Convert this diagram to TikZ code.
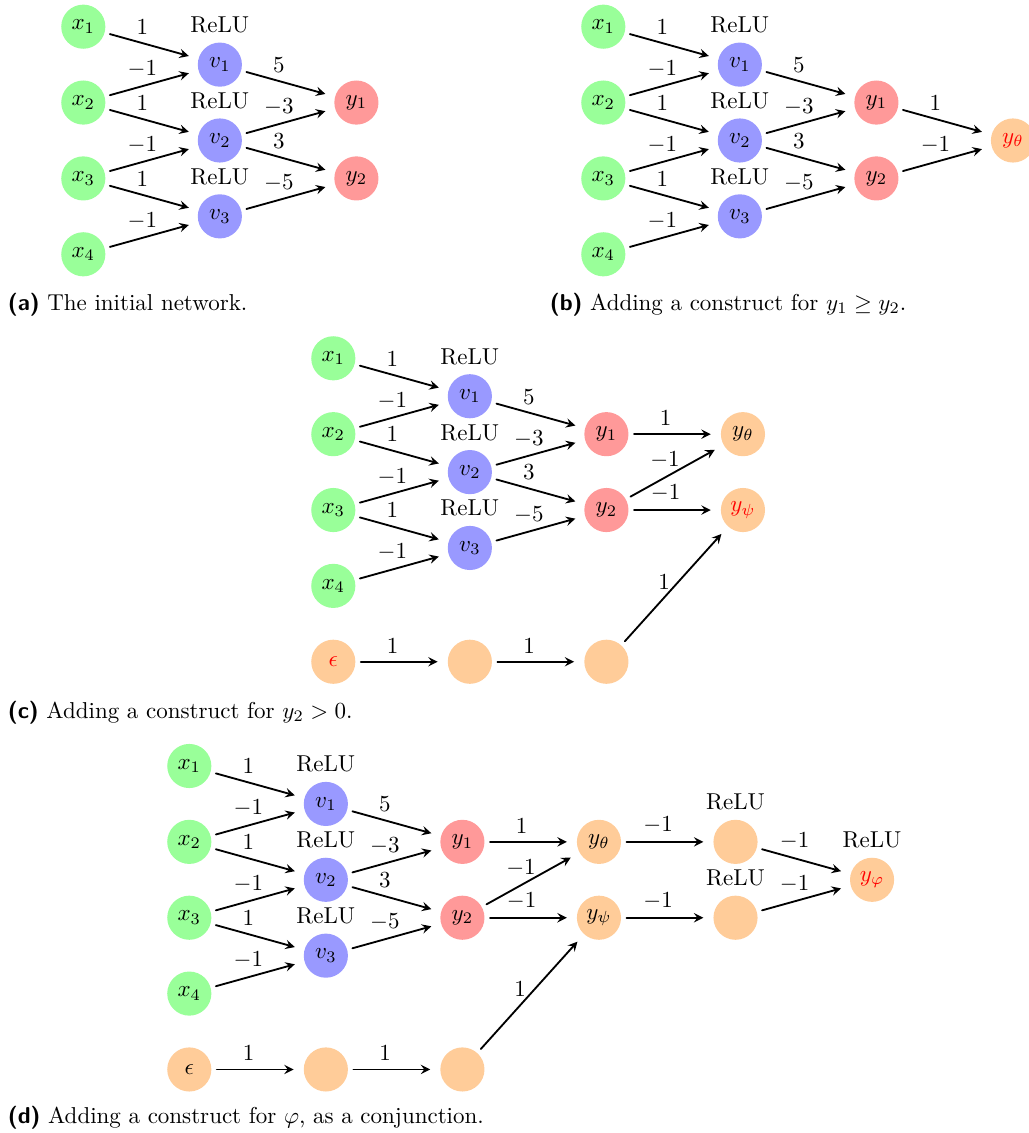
\documentclass[tikz,border=0pt]{standalone}
\usepackage{amsmath,amssymb}
\begin{document}
\begin{tikzpicture}[line join=round, line cap=round,>=stealth,thick,x=0.435pt,y=-0.435pt]
	\tikzset{neuron/.style={circle,minimum size=19.2pt,inner sep=0pt},
		inp/.style={neuron,fill=green!40},
		hid/.style={neuron,fill=blue!40,label=above:ReLU},
		outp/.style={neuron,fill=red!40},
		aux/.style={neuron,fill=orange!40},
		relu/.style={label=above:ReLU},
		conn/.style={->,shorten <=2pt,shorten >=4pt},
		wt/.style={above,pos=0.4},
		capbox/.style={anchor=base west,inner sep=0pt}}
	\useasboundingbox (0,0) rectangle (1028,1133);
	% the same starting network in (a)--(d)
	\foreach \p/\ox/\oy in {a/83.3/26.7,b/603.3/26.7,c/333.3/358.3,d/189.3/766}{
		\begin{scope}[shift={(\ox,\oy)},x=59.4pt,y=-33pt,name prefix=\p-]
			\foreach \i in {1,...,4}
			\node[inp] (x\i) at (0,\i-1) {$x_\i$};
			\foreach \i in {1,2,3}
			\node[hid] (v\i) at (1,\i-0.5) {$v_\i$};
			\node[outp] (y1) at (2,1) {$y_1$};
			\node[outp] (y2) at (2,2) {$y_2$};
			\foreach \s/\t/\w in {x1/v1/1,x2/v1/-1,x2/v2/1,x3/v2/-1,x3/v3/1,x4/v3/-1,v1/y1/5,v2/y1/-3,v2/y2/3,v3/y2/-5}
			\draw[conn] (\s) -- (\t) node[wt] {$\w$};
		\end{scope}
	}
	% (b)
	\begin{scope}[shift={(603.3,26.7)},x=59.4pt,y=-33pt,name prefix=b-]
		\node[aux,text=red] (yt) at (3,1.5) {$y_\theta$};
		\draw[conn] (y1) -- (yt) node[wt] {$1$};
		\draw[conn] (y2) -- (yt) node[wt] {$-1$};
	\end{scope}
	% (c)
	\begin{scope}[shift={(333.3,358.3)},x=59.4pt,y=-33pt,name prefix=c-]
		\node[aux] (yt) at (3,1) {$y_\theta$};
		\node[aux,text=red] (ys) at (3,2) {$y_\psi$};
		\node[aux,text=red] (eps) at (0,4) {$\epsilon$};
		\node[aux] (e1) at (1,4) {};
		\node[aux] (e2) at (2,4) {};
		\foreach \s/\t/\w in {y1/yt/1,y2/yt/-1,y2/ys/-1,eps/e1/1,e1/e2/1,e2/ys/1}
		\draw[conn] (\s) -- (\t) node[wt] {$\w$};
	\end{scope}
	% (d)
	\begin{scope}[shift={(189.3,766)},x=59.4pt,y=-33pt,name prefix=d-]
		\node[aux] (yt) at (3,1) {$y_\theta$};
		\node[aux] (ys) at (3,2) {$y_\psi$};
		\node[aux] (eps) at (0,4) {$\epsilon$};
		\node[aux] (e1) at (1,4) {};
		\node[aux] (e2) at (2,4) {};
		\node[aux,relu] (r1) at (4,1) {};
		\node[aux,relu] (r2) at (4,2) {};
		\node[aux,relu,text=red] (yp) at (5,1.5) {$y_\varphi$};
		\foreach \s/\t/\w in {y1/yt/1,y2/yt/-1,y2/ys/-1,eps/e1/1,e1/e2/1,e2/ys/1,yt/r1/-1,ys/r2/-1,r1/yp/-1,r2/yp/-1}
		\draw[conn] (\s) -- (\t) node[wt] {$\w$};
	\end{scope}
	% captions
	\node[capbox] (capa) at (7,310) {\textsf{\textbf{(a)}} The initial network.};
	\node[capbox] (capb) at (549,310) {\textsf{\textbf{(b)}} Adding a construct for $y_1 \geq y_2$.};
	\node[capbox] (capc) at (7,718.5) {\textsf{\textbf{(c)}} Adding a construct for $y_2 > 0$.};
	\node[capbox] (capd) at (7,1123.5) {\textsf{\textbf{(d)}} Adding a construct for $\varphi$, as a conjunction.};
\end{tikzpicture}
\end{document}
